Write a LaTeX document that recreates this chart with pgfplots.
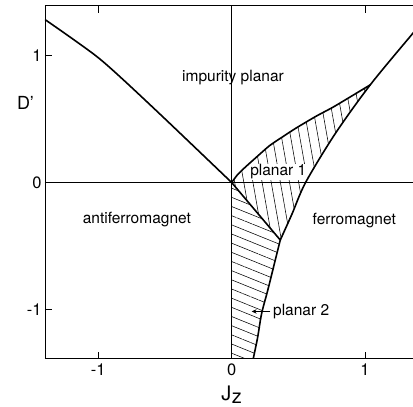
\documentclass[border=0pt]{standalone}
\usepackage{fontspec}
\setmainfont{TeX Gyre Heros}
\usepackage{pgfplots}
\pgfplotsset{compat=1.18}
\usetikzlibrary{patterns.meta, arrows.meta}

\newcommand\lbl{\fontsize{15.5}{18}\selectfont}

\begin{document}
\begin{tikzpicture}
\useasboundingbox (-45pt,-47.5pt) rectangle (368pt,358.8pt);
\begin{axis}[
  name=ax,
  x=133.3pt, y=127.3pt,
  xmin=-1.4, xmax=1.4, ymin=-1.385, ymax=1.39,
  axis x line*=box, axis y line*=left,
  axis line style={line width=0.9pt},
  xtick={-1,0,1}, ytick={-1,0,1},
  tick align=inside,
  major tick length=7pt,
  tick style={black, line width=0.8pt},
  tick label style={font=\fontsize{16.5}{19}\selectfont},
  xticklabel style={yshift=-1pt},
  /pgf/number format/assume math mode=true,
  xlabel={J\kern0.3pt\raisebox{-2.5pt}{z}},
  xlabel style={at={(axis description cs:0.5,0)}, anchor=north, yshift=-27pt,
    inner sep=0pt, font=\fontsize{20}{23}\selectfont},
  ylabel={D'},
  ylabel style={rotate=-90, at={(axis description cs:0,0.725)}, anchor=center,
    xshift=-19.5pt, inner sep=0pt, font=\fontsize{18}{21}\selectfont},
]
% hatched region: planar 1
\addplot[draw=none, pattern={Lines[angle=-80, distance=9pt, line width=0.55pt]}]
  coordinates {(0,0) (0.083,0.105) (0.183,0.196) (0.283,0.288) (0.383,0.359)
   (0.483,0.427) (0.633,0.52) (0.758,0.59) (0.883,0.668) (1.04,0.767)
   (0.775,0.38) (0.555,0) (0.452,-0.25) (0.365,-0.452)} -- cycle;
% hatched region: planar 2
\addplot[draw=none, pattern={Lines[angle=-22, distance=8.5pt, line width=0.55pt]}]
  coordinates {(0,0) (0.365,-0.452) (0.32,-0.641) (0.27,-0.851) (0.225,-1.03)
   (0.195,-1.218) (0.162,-1.385) (0,-1.385)} -- cycle;

% label sits on a white patch inside the hatching
\node[anchor=base, fill=white, inner sep=0.8pt, font=\lbl] at (axis cs:0.35,0.053) {planar 1};

% zero lines
\addplot[black, line width=0.7pt] coordinates {(0,-1.385) (0,1.39)};
\addplot[black, line width=0.7pt] coordinates {(-1.4,0) (1.4,0)};

% phase boundaries
\addplot[black, line width=1.6pt, smooth, tension=0.5] coordinates
  {(-1.4,1.28) (-1.19,1.126) (-1.0,0.98) (-0.818,0.812) (-0.5,0.5) (0,0)};
\addplot[black, line width=1.6pt, smooth, tension=0.4] coordinates
  {(0,0) (0.045,0.062) (0.1,0.118) (0.183,0.196) (0.283,0.288) (0.383,0.359)
   (0.483,0.427) (0.633,0.52) (0.758,0.59) (0.883,0.668) (1.04,0.767)};
\addplot[black, line width=1.6pt, smooth, tension=0.5] coordinates
  {(0.365,-0.452) (0.452,-0.25) (0.555,0) (0.775,0.38) (1.04,0.767)
   (1.355,1.166) (1.4,1.22)};
\addplot[black, line width=1.6pt, smooth, tension=0.5] coordinates
  {(0.162,-1.385) (0.195,-1.218) (0.225,-1.03) (0.27,-0.851) (0.32,-0.641)
   (0.365,-0.452)};
\addplot[black, line width=1.6pt] coordinates {(0,0) (0.365,-0.452)};
\addplot[black, line width=1.6pt] coordinates {(0,0) (0,-1.385)};

% region names
\node[anchor=base, font=\lbl] at (axis cs:0.01,0.79) {impurity planar};
\node[anchor=base, font=\lbl] at (axis cs:-0.711,-0.322) {antiferromagnet};
\node[anchor=base, font=\lbl] at (axis cs:0.92,-0.327) {ferromagnet};
\node[anchor=base west, inner sep=0pt, font=\lbl] at (axis cs:0.31,-1.047) {planar 2};
\draw[-{Stealth[length=5pt,width=4.5pt]}, line width=0.8pt]
  (axis cs:0.29,-1.013) -- (axis cs:0.15,-1.013);
\end{axis}
\end{tikzpicture}
\end{document}
